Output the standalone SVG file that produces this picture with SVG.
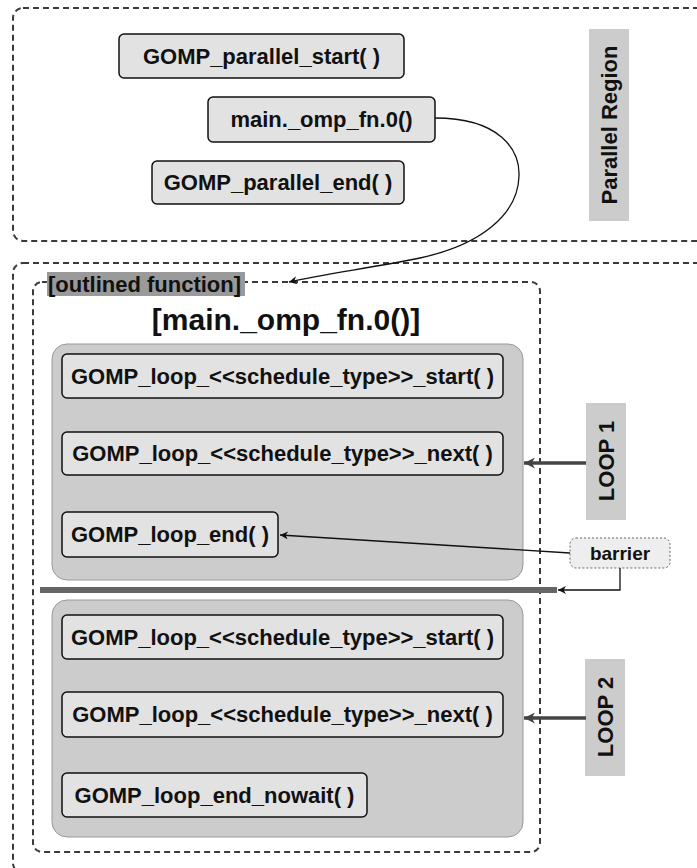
<svg xmlns="http://www.w3.org/2000/svg" width="697" height="868" viewBox="0 0 697 868">
  <style>
    .t { font-family: "Liberation Sans", Arial, sans-serif; font-weight: bold; fill: #111; }
    .fn { fill: #e2e2e2; stroke: #111; stroke-width: 1.5; }
    .region { fill: none; stroke: #3a3a3a; stroke-width: 2; stroke-dasharray: 6 4; }
    .loop { fill: #cccccc; stroke: #999; stroke-width: 1; }
    .tag { fill: #cccccc; }
    .thin { fill: none; stroke: #111; stroke-width: 1.3; }
    .thick { fill: none; stroke: #444; stroke-width: 3.5; }
  </style>
  <defs>
    <marker id="arrow" viewBox="0 0 10 10" refX="10" refY="5" markerWidth="10" markerHeight="8" markerUnits="userSpaceOnUse" orient="auto">
      <path d="M0,0 L10,5 L0,10 L3,5 Z" fill="#111"/>
    </marker>
    <marker id="arrowThick" viewBox="0 0 10 10" refX="10" refY="5" markerWidth="13" markerHeight="11" markerUnits="userSpaceOnUse" orient="auto">
      <path d="M0,0 L10,5 L0,10 L3,5 Z" fill="#444"/>
    </marker>
  </defs>

  <rect width="697" height="868" fill="#ffffff"/>

  <!-- parallel region -->
  <g id="parallel-region">
    <rect class="region" x="13" y="8" width="720" height="233" rx="10"/>
    <rect class="tag" x="589" y="29" width="40" height="192"/>
    <text class="t" font-size="22" text-anchor="middle" transform="translate(617,125) rotate(-90)">Parallel Region</text>
  </g>

  <g id="gomp-parallel-start">
    <rect class="fn" x="119" y="34" width="285" height="44" rx="5"/>
    <text class="t" font-size="22" x="261.5" y="64" text-anchor="middle">GOMP_parallel_start( )</text>
  </g>
  <g id="main-omp-fn">
    <rect class="fn" x="208" y="97" width="227" height="45" rx="5"/>
    <text class="t" font-size="22" x="321.5" y="127" text-anchor="middle">main._omp_fn.0()</text>
  </g>
  <g id="gomp-parallel-end">
    <rect class="fn" x="152" y="161" width="252" height="43" rx="5"/>
    <text class="t" font-size="22" x="278" y="190" text-anchor="middle">GOMP_parallel_end( )</text>
  </g>

  <!-- thread team region -->
  <g id="team-region">
    <rect class="region" x="13" y="263" width="720" height="610" rx="10"/>
  </g>

  <!-- outlined function -->
  <g id="outlined-function">
    <rect class="region" x="33" y="282" width="507" height="570" rx="9" fill="#efefef"/>
    <rect x="47" y="272" width="198" height="24" fill="#9a9a9a"/>
    <text class="t" font-size="22" x="48" y="292">[outlined function]</text>
    <text class="t" font-size="30" x="286" y="330" text-anchor="middle">[main._omp_fn.0()]</text>
  </g>

  <!-- loop 1 -->
  <g id="loop1">
    <rect class="loop" x="52" y="344" width="471" height="236" rx="15"/>
  </g>
  <g id="loop1-start">
    <rect class="fn" x="62" y="354" width="441" height="44" rx="5"/>
    <text class="t" font-size="22" x="282.5" y="384" text-anchor="middle">GOMP_loop_&lt;&lt;schedule_type&gt;&gt;_start( )</text>
  </g>
  <g id="loop1-next">
    <rect class="fn" x="62" y="432" width="441" height="43" rx="5"/>
    <text class="t" font-size="22" x="282.5" y="461" text-anchor="middle">GOMP_loop_&lt;&lt;schedule_type&gt;&gt;_next( )</text>
  </g>
  <g id="loop1-end">
    <rect class="fn" x="62" y="512" width="216" height="45" rx="5"/>
    <text class="t" font-size="22" x="170" y="542" text-anchor="middle">GOMP_loop_end( )</text>
  </g>
  <g id="loop1-tag">
    <rect class="tag" x="586" y="403" width="40" height="117"/>
    <text class="t" font-size="22" text-anchor="middle" transform="translate(614,461) rotate(-90)">LOOP 1</text>
  </g>

  <!-- barrier bar -->
  <g id="barrier-bar">
    <rect x="40" y="587" width="517" height="6" fill="#666"/>
  </g>

  <!-- loop 2 -->
  <g id="loop2">
    <rect class="loop" x="52" y="600" width="471" height="237" rx="15"/>
  </g>
  <g id="loop2-start">
    <rect class="fn" x="62" y="615" width="441" height="44" rx="5"/>
    <text class="t" font-size="22" x="282.5" y="645" text-anchor="middle">GOMP_loop_&lt;&lt;schedule_type&gt;&gt;_start( )</text>
  </g>
  <g id="loop2-next">
    <rect class="fn" x="62" y="692" width="441" height="45" rx="5"/>
    <text class="t" font-size="22" x="282.5" y="722" text-anchor="middle">GOMP_loop_&lt;&lt;schedule_type&gt;&gt;_next( )</text>
  </g>
  <g id="loop2-end-nowait">
    <rect class="fn" x="62" y="773" width="305" height="44" rx="5"/>
    <text class="t" font-size="22" x="214.5" y="803" text-anchor="middle">GOMP_loop_end_nowait( )</text>
  </g>
  <g id="loop2-tag">
    <rect class="tag" x="585" y="659" width="40" height="117"/>
    <text class="t" font-size="22" text-anchor="middle" transform="translate(613,717) rotate(-90)">LOOP 2</text>
  </g>

  <!-- barrier note -->
  <g id="barrier">
    <rect x="570" y="538" width="100" height="30" rx="6" fill="#eeeeee" stroke="#666" stroke-width="1" stroke-dasharray="2 2"/>
    <text class="t" font-size="19" x="620" y="560" text-anchor="middle">barrier</text>
  </g>

  <!-- connectors -->
  <g id="connectors">
    <path class="thin" d="M435,118 C500,118 520,150 519,176 C518,215 480,245 420,258 C370,268 325,274 289,282" marker-end="url(#arrow)"/>
    <path class="thin" d="M570,553 L280,535" marker-end="url(#arrow)"/>
    <path class="thin" d="M620,568 V590 H558" marker-end="url(#arrow)"/>
    <path class="thick" d="M586,463 H524" marker-end="url(#arrowThick)"/>
    <path class="thick" d="M586,718 H524" marker-end="url(#arrowThick)"/>
  </g>
</svg>
